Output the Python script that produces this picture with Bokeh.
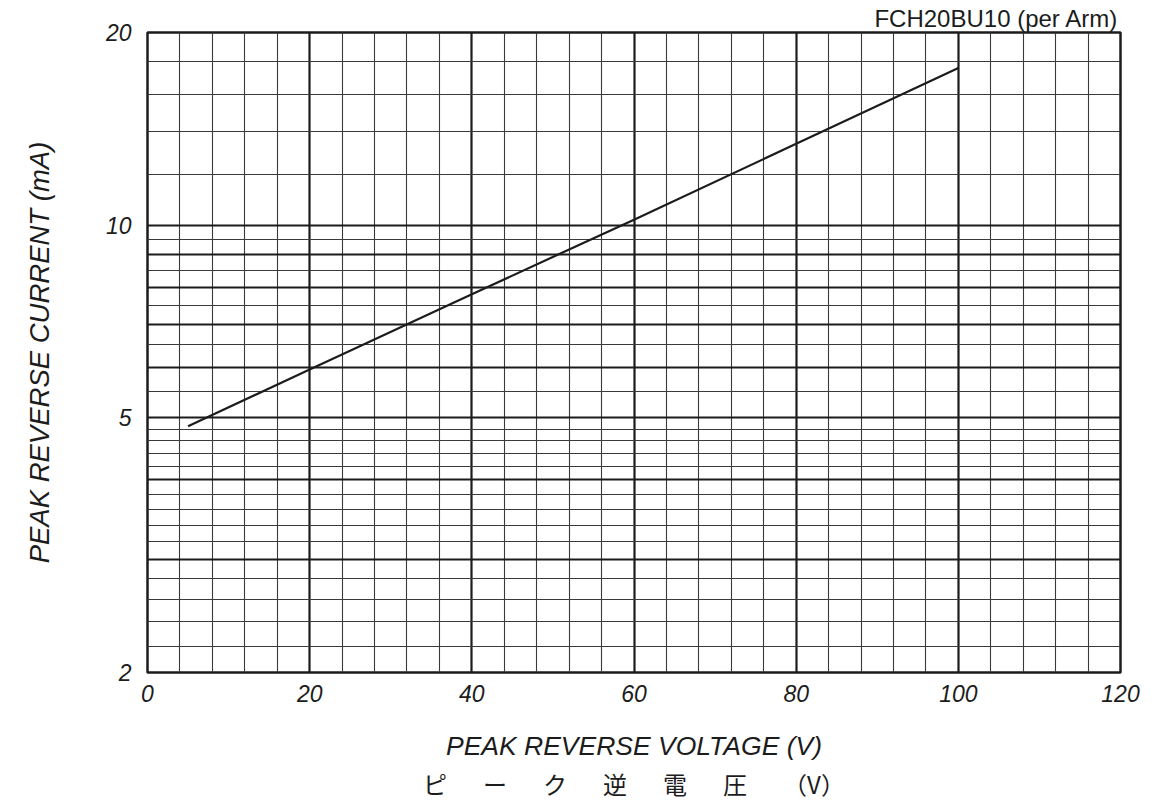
from bokeh.plotting import figure
from bokeh.models import FixedTicker, LinearAxis, Range1d, CustomJSTickFormatter
from bokeh.embed import file_html
from bokeh.resources import INLINE

# ---- data ----
voltage = [5, 20, 40, 60, 80, 100]
current = [4.85, 5.95, 7.8, 10.2, 13.4, 17.6]

x_tick_labels = [0, 20, 40, 60, 80, 100, 120]
y_tick_labels = [2, 5, 10, 20]

x_major_grid = [20, 40, 60, 80, 100]
x_minor_grid = [v for v in range(4, 120, 4) if v % 20 != 0]
y_major_grid = [3, 4, 5, 6, 7, 8, 9, 10]
y_minor_grid = [2.2, 2.4, 2.6, 2.8, 3.2, 3.4, 3.6, 3.8, 4.2, 4.4, 4.6, 4.8,
                5.5, 6.5, 7.5, 8.5, 9.5, 12, 14, 16, 18]

title_text = "FCH20BU10 (per Arm)"
x_label = "PEAK REVERSE VOLTAGE (V)"
x_label_jp = "ピ\u3000\u2002ー\u3000\u2002ク\u3000\u2002逆\u3000\u2002電\u3000\u2002圧\u3000\u2002（V）"
y_label = "PEAK REVERSE CURRENT (mA)"

W, H = 1146, 803
p = figure(width=W, height=H, output_backend="svg", toolbar_location=None,
           y_axis_type="log", x_range=Range1d(0, 120), y_range=Range1d(2, 20),
           min_border_left=147, min_border_right=26, min_border_top=32,
           min_border_bottom=131, background_fill_color="white",
           border_fill_color="white")

INK = "#1c1c1c"
p.outline_line_color = INK
p.outline_line_width = 2.5

# title
p.title.text = title_text
p.title.align = "right"
p.title.text_font = "Liberation Sans"
p.title.text_font_style = "normal"
p.title.text_font_size = "24px"
p.title.text_color = INK
p.title.standoff = 2
p.title.offset = 2

# grids
p.xgrid.ticker = FixedTicker(ticks=x_major_grid, minor_ticks=x_minor_grid)
p.ygrid.ticker = FixedTicker(ticks=y_major_grid, minor_ticks=y_minor_grid)
for g in (p.xgrid, p.ygrid):
    g.grid_line_color = INK
    g.grid_line_width = 2.2
    g.minor_grid_line_color = "#3a3a3a"
    g.minor_grid_line_width = 1.1

# axes
p.xaxis.ticker = FixedTicker(ticks=x_tick_labels)
p.yaxis.ticker = FixedTicker(ticks=y_tick_labels)
p.yaxis.formatter = CustomJSTickFormatter(code="return tick.toString();")
for ax in (p.xaxis[0], p.yaxis[0]):
    ax.axis_line_color = None
    ax.major_tick_line_color = None
    ax.minor_tick_line_color = None
    ax.major_tick_in = 0
    ax.major_tick_out = 0
    ax.minor_tick_in = 0
    ax.minor_tick_out = 0
    ax.major_label_text_font = "Liberation Sans"
    ax.major_label_text_font_style = "italic"
    ax.major_label_text_font_size = "23px"
    ax.major_label_text_color = INK
    ax.axis_label_text_font = "Liberation Sans"
    ax.axis_label_text_font_style = "italic"
    ax.axis_label_text_color = INK

p.xaxis.major_label_standoff = 12
p.yaxis.major_label_standoff = 16
p.xaxis.axis_label = x_label
p.xaxis.axis_label_text_font_size = "26.5px"
p.xaxis.axis_label_standoff = 26
p.yaxis.axis_label = y_label
p.yaxis.axis_label_text_font_size = "27.5px"
p.yaxis.axis_label_standoff = 48

jp_axis = LinearAxis(axis_label=x_label_jp, ticker=FixedTicker(ticks=[]),
                     axis_line_color=None, major_tick_line_color=None,
                     minor_tick_line_color=None, major_label_text_font_size="0px",
                     major_tick_in=0, major_tick_out=0, minor_tick_in=0,
                     minor_tick_out=0, major_label_standoff=0,
                     axis_label_text_font="Noto Sans CJK JP",
                     axis_label_text_font_style="normal",
                     axis_label_text_font_size="24px",
                     axis_label_text_color=INK, axis_label_standoff=2)
p.add_layout(jp_axis, "below")

# curve
p.line(voltage, current, line_color=INK, line_width=2.2)

open("out.html", "w").write(file_html(p, INLINE))
